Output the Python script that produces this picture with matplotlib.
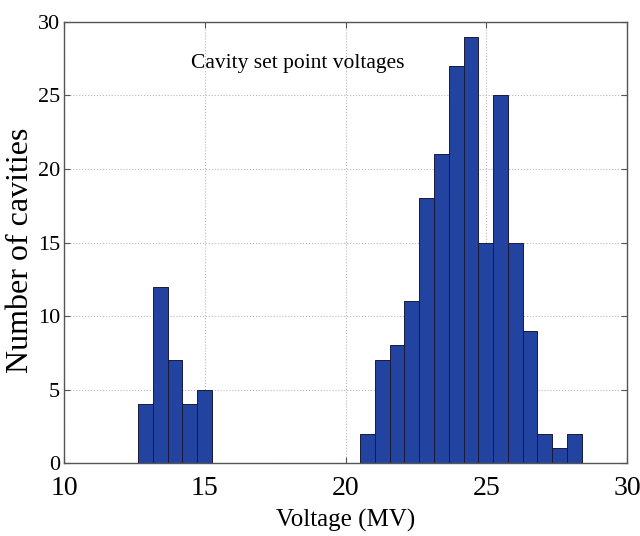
import matplotlib
matplotlib.use('Agg')
import matplotlib.pyplot as plt
import numpy as np

# histogram: 30 equal bins between min and max voltage
v_min = 12.62
v_max = 28.40
counts = [4, 12, 7, 4, 5,
          0, 0, 0, 0, 0, 0, 0, 0, 0, 0,
          2, 7, 8, 11, 18, 21, 27, 29, 15, 25, 15, 9, 2, 1, 2]
x_ticks = [10, 15, 20, 25, 30]
y_ticks = [0, 5, 10, 15, 20, 25, 30]

plt.rcParams['font.family'] = ['Liberation Serif', 'DejaVu Serif']

edges = np.linspace(v_min, v_max, len(counts) + 1)

fig = plt.figure(figsize=(6.4, 5.36), dpi=100)
ax = fig.add_axes([0.1005, 0.136, 0.879, 0.823])

ax.hist(edges[:-1], bins=edges, weights=counts, color='#2244a0',
        edgecolor='#1a1a3a', linewidth=0.7, zorder=2)

ax.set_xlim(10, 30)
ax.set_ylim(0, 30)
ax.set_xticks(x_ticks)
ax.set_yticks(y_ticks)
ax.grid(True, linestyle=':', color='#b8b8b8', linewidth=0.8, zorder=0)
ax.set_axisbelow(True)
ax.tick_params(direction='in', top=True, right=True,
               length=4, color='#555555')
ax.tick_params(axis='x', labelsize=20, pad=9)
ax.tick_params(axis='y', labelsize=16, pad=3)
for s in ax.spines.values():
    s.set_color('#555555')
    s.set_linewidth(1.0)

ax.set_xlabel('Voltage (MV)', fontsize=18, labelpad=6)
ax.set_ylabel('Number of cavities', fontsize=23)
ax.yaxis.set_label_coords(-0.052, 0.483)
ax.text(18.3, 27.2, 'Cavity set point voltages', fontsize=15.5,
        ha='center', va='center')

fig.savefig('out.png', dpi=100)
